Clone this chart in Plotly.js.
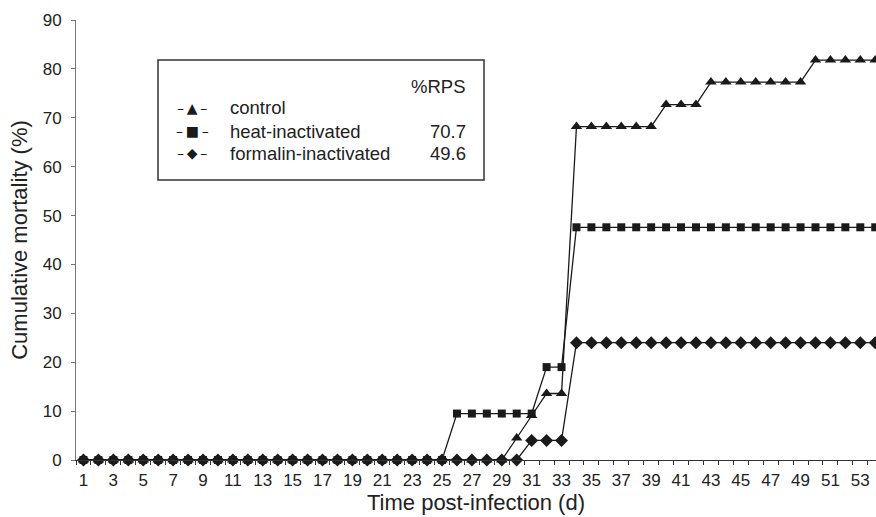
<!DOCTYPE html>
<html>
<head>
<meta charset="utf-8">
<script src="https://cdn.plot.ly/plotly-3.0.1.min.js"></script>
<style>html,body{margin:0;padding:0;background:#fff;}#chart{width:876px;height:517px;}</style>
</head>
<body>
<div id="chart"></div>
<script>
const days = [1,2,3,4,5,6,7,8,9,10,11,12,13,14,15,16,17,18,19,20,21,22,23,24,25,26,27,28,29,30,31,32,33,34,35,36,37,38,39,40,41,42,43,44,45,46,47,48,49,50,51,52,53,54];
const control = [0,0,0,0,0,0,0,0,0,0,0,0,0,0,0,0,0,0,0,0,0,0,0,0,0,0,0,0,0,
  4.5,9.1,13.6,13.6,
  68.2,68.2,68.2,68.2,68.2,68.2,
  72.7,72.7,72.7,
  77.3,77.3,77.3,77.3,77.3,77.3,77.3,
  81.8,81.8,81.8,81.8,81.8];
const heat = [0,0,0,0,0,0,0,0,0,0,0,0,0,0,0,0,0,0,0,0,0,0,0,0,0,
  9.5,9.5,9.5,9.5,9.5,9.5,
  19.0,19.0,
  47.6,47.6,47.6,47.6,47.6,47.6,47.6,47.6,47.6,47.6,47.6,47.6,47.6,47.6,47.6,47.6,47.6,47.6,47.6,47.6,47.6];
const formalin = [0,0,0,0,0,0,0,0,0,0,0,0,0,0,0,0,0,0,0,0,0,0,0,0,0,0,0,0,0,0,
  4.0,4.0,4.0,
  24.0,24.0,24.0,24.0,24.0,24.0,24.0,24.0,24.0,24.0,24.0,24.0,24.0,24.0,24.0,24.0,24.0,24.0,24.0,24.0,24.0];
const xTickVals = [1,3,5,7,9,11,13,15,17,19,21,23,25,27,29,31,33,35,37,39,41,43,45,47,49,51,53];
const seriesNames = ["control","heat-inactivated","formalin-inactivated"];
const rpsValues = ["","70.7","49.6"];
const legendSymbols = ["\u2013\u2009\u25B2\u2009\u2013","\u2013\u2009\u25A0\u2009\u2013","\u2013\u2009\u25C6\u2009\u2013"];

const ink = '#1a1a1a';
const FONT = 'Liberation Sans, Arial, Helvetica, sans-serif';

function tr(y, sym, size){
  return {x: days, y: y, type:'scatter', mode:'lines+markers', cliponaxis:false,
    line:{color:ink, width:1.3}, marker:{symbol:sym, size:size, color:ink}, showlegend:false, hoverinfo:'skip'};
}
const data = [tr(formalin,'diamond',10), tr(control,'triangle-up',10), tr(heat,'square',8)];

// legend (paper coords from pixel positions; plot area 76..876 x 20..460)
const px = v => (v-76)/800, py = v => (460-v)/440;
const rowY = [108,131,153];
const annotations = [
  {text:'%RPS', x:px(468), y:py(87), xanchor:'right', yanchor:'middle'}
];
for(let i=0;i<3;i++){
  annotations.push({text:legendSymbols[i], x:px(192), y:py(rowY[i]), xanchor:'center', yanchor:'middle', font:{family:'DejaVu Sans', size:14, color:ink}});
  annotations.push({text:seriesNames[i], x:px(228), y:py(rowY[i]), xanchor:'left', yanchor:'middle'});
  if(rpsValues[i]) annotations.push({text:rpsValues[i], x:px(468), y:py(rowY[i]), xanchor:'right', yanchor:'middle'});
}
annotations.forEach(a=>{a.xref='paper';a.yref='paper';a.showarrow=false;if(!a.font)a.font={family:FONT,size:18.5,color:'#222'};});

const layout = {
  width:876, height:517,
  margin:{l:76, r:0, t:20, b:57},
  paper_bgcolor:'#fff', plot_bgcolor:'#fff',
  font:{family:FONT, size:17, color:'#222'},
  xaxis:{type:'linear', range:[0.5,54.05], tickmode:'array', tickvals:xTickVals,
    ticks:'', showline:true, linecolor:'#333', linewidth:1, showgrid:false, zeroline:false,
    tickfont:{size:17}, ticklabelstandoff:5,
    minor:{tickmode:'linear', tick0:0.5, dtick:1, ticks:'outside', ticklen:4, tickcolor:'#333', showgrid:false},
    title:{text:'Time post-infection (d)', font:{size:22}, standoff:2}},
  yaxis:{range:[0,90], tickmode:'linear', tick0:0, dtick:10, ticks:'outside', ticklen:4,
    tickcolor:'#777', showline:true, linecolor:'#777', linewidth:1, showgrid:false, zeroline:false,
    tickfont:{size:17}, ticklabelstandoff:6,
    title:{text:'Cumulative mortality (%)', font:{size:22}, standoff:8}},
  shapes:[{type:'rect', xref:'paper', yref:'paper', x0:px(158), x1:px(484), y0:py(180), y1:py(60),
    line:{color:'#333', width:1.5}, fillcolor:'rgba(0,0,0,0)'}],
  annotations: annotations
};
Plotly.newPlot('chart', data, layout, {staticPlot:true, displayModeBar:false});
</script>
</body>
</html>
